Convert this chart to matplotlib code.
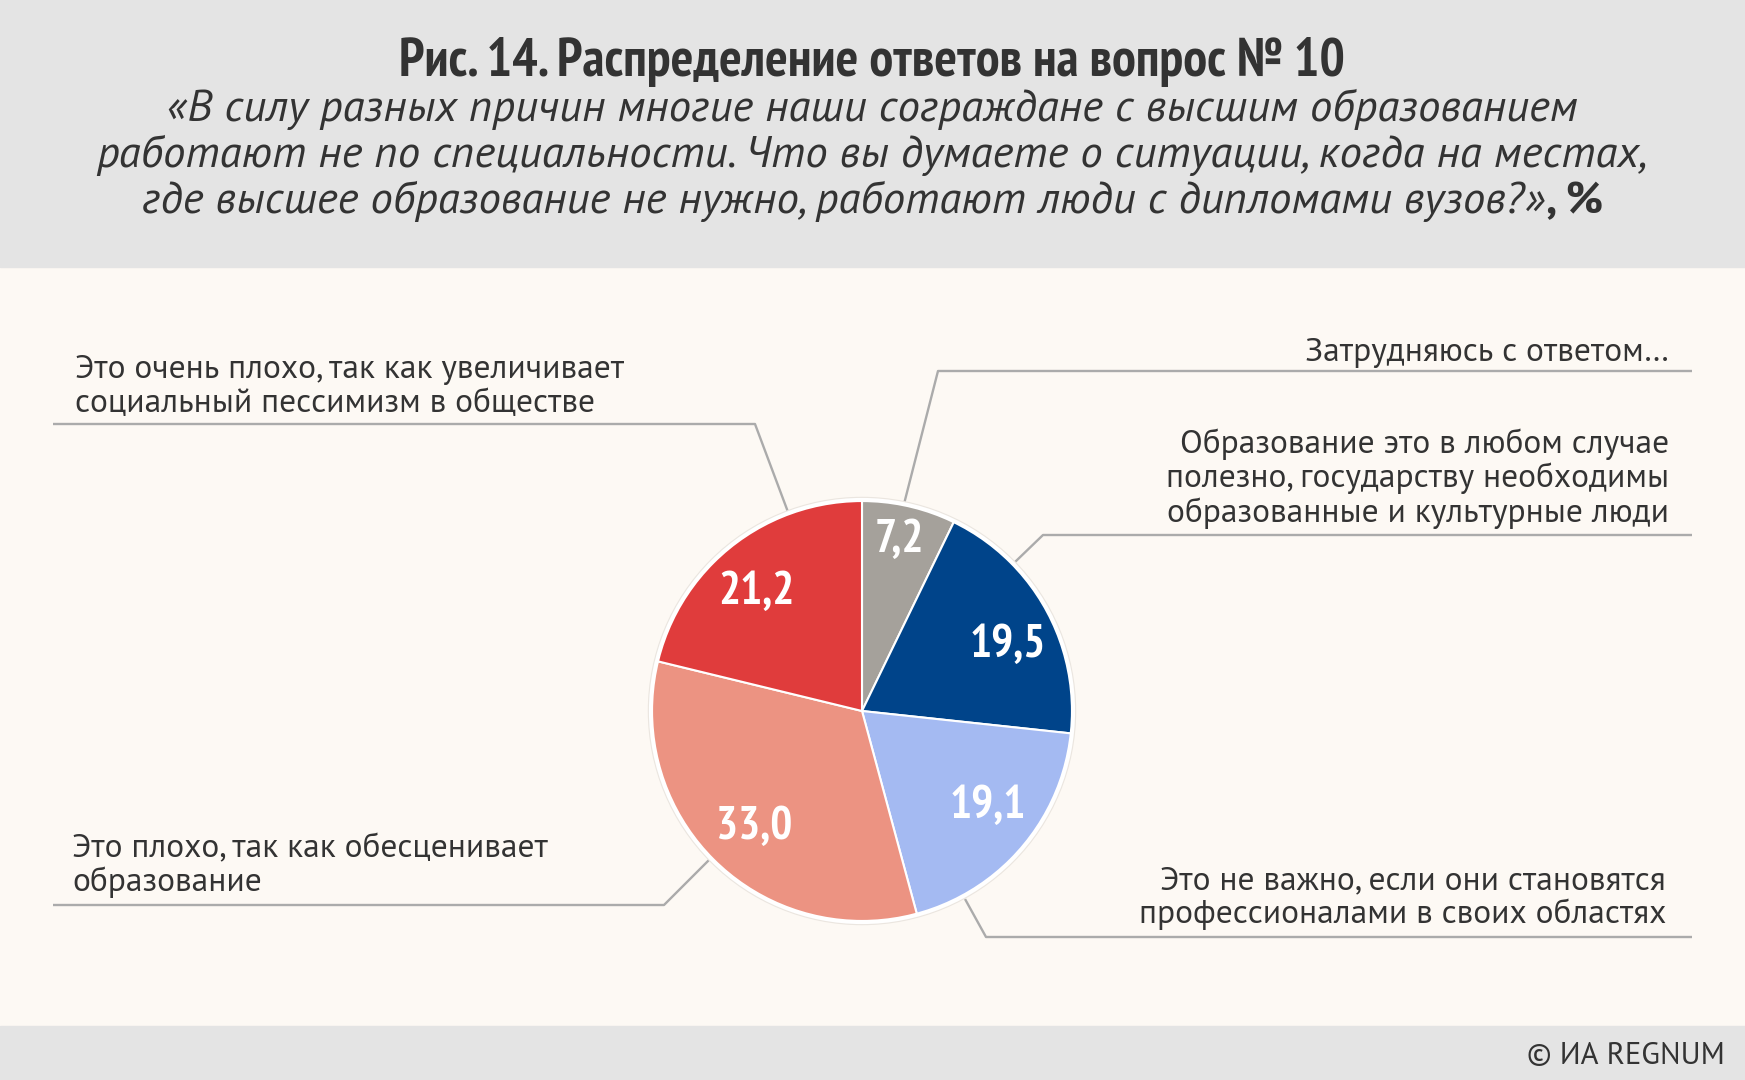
import matplotlib
matplotlib.use("Agg")
import matplotlib.pyplot as plt
import numpy as np

# --- data ---
answers = [
    ["Затрудняюсь с ответом…"],
    ["Образование это в любом случае", "полезно, государству необходимы",
     "образованные и культурные люди"],
    ["Это не важно, если они становятся", "профессионалами в своих областях"],
    ["Это плохо, так как обесценивает", "образование"],
    ["Это очень плохо, так как увеличивает", "социальный пессимизм в обществе"],
]
shares = [7.2, 19.5, 19.1, 33.0, 21.2]
share_labels = ["7,2", "19,5", "19,1", "33,0", "21,2"]
colors = ["#a5a19b", "#00448a", "#a4baf2", "#ec9382", "#e03c3c"]

title = "Рис. 14. Распределение ответов на вопрос № 10"
question = [
    "«В силу разных причин многие наши сограждане с высшим образованием",
    "работают не по специальности. Что вы думаете о ситуации, когда на местах,",
    "где высшее образование не нужно, работают люди с дипломами вузов?»",
]
unit = ", %"
source = "© ИА REGNUM"

# --- layout (pixels of the 1745x1080 canvas, y down) ---
W, H = 1745, 1080
pie_cx, pie_cy, pie_r = 862, 711, 211
# x, first baseline, alignment for each answer label
label_pos = [(1669, 361, "right"), (1669, 453, "right"), (1666, 889, "right"),
             (72, 857, "left"), (75, 378, "left")]
line_step = 34.5
leaders = [
    [(1692, 371), (938, 371), (904, 504)],
    [(1692, 535), (1043, 535), (1015, 562)],
    [(1692, 937), (986, 937), (965, 899)],
    [(53, 905), (664, 905), (709, 860)],
    [(53, 424), (755, 424), (788, 512)],
]
val_dist = [0.83, 0.76, 0.75, 0.75, 0.755]
val_frac = [0.47, 0.567, 0.45, 0.487, 0.457]

sans = ["PT Sans", "DejaVu Sans"]
narrow = ["PT Sans Narrow", "PT Sans", "DejaVu Sans"]
text_col = "#333333"

fig = plt.figure(figsize=(W / 100, H / 100), dpi=100)
fig.patch.set_facecolor("#fdf9f4")
renderer = fig.canvas.get_renderer()

bg = fig.add_axes([0, 0, 1, 1])
bg.set_xlim(0, W)
bg.set_ylim(H, 0)
bg.axis("off")
bg.add_patch(plt.Rectangle((0, 0), W, 267, color="#e4e4e4", zorder=0))
bg.add_patch(plt.Rectangle((0, 1026), W, 54, color="#e4e4e4", zorder=0))


def size_for(s, width, **kw):
    """font size (pt) at which string s is `width` pixels wide"""
    probe = bg.text(0, 0, s, fontsize=20, **kw)
    w = probe.get_window_extent(renderer).width
    probe.remove()
    return 20 * width / w


# header
fs_title = size_for(title, 949, fontweight="bold", family=narrow)
bg.text(872, 76, title, ha="center", va="baseline", fontsize=fs_title,
        fontweight="bold", family=narrow, color=text_col)

fs_q = size_for(question[1], 1547, style="italic", family=sans)
for i, line in enumerate(question[:2]):
    bg.text(872, 121 + 46 * i, line, ha="center", va="baseline", fontsize=fs_q,
            style="italic", family=sans, color=text_col)

# last line: italic question + bold unit, centered together
t1 = bg.text(0, 213, question[2], ha="left", va="baseline", fontsize=fs_q,
             style="italic", family=sans, color=text_col)
t2 = bg.text(0, 213, unit, ha="left", va="baseline", fontsize=fs_q,
             fontweight="bold", family=sans, color=text_col)
w1 = t1.get_window_extent(renderer).width
w2 = t2.get_window_extent(renderer).width
x0 = 872 - (w1 + w2) / 2
t1.set_x(x0)
t2.set_x(x0 + w1 + 1)

fs_src = size_for(source, 198, family=sans)
bg.text(1725, 1064, source, ha="right", va="baseline", fontsize=fs_src,
        family=sans, color=text_col)

# leader lines and answer labels
fs_lab = size_for(answers[4][0], 547, family=sans)
for pts, (lx, ly, ha), lines in zip(leaders, label_pos, answers):
    xs, ys = zip(*pts)
    bg.plot(xs, ys, color="#ababab", lw=1.7, solid_capstyle="butt", zorder=1)
    for k, line in enumerate(lines):
        bg.text(lx, ly + k * line_step, line, ha=ha, va="baseline",
                fontsize=fs_lab, family=sans, color=text_col)

# pie
half = 250
pax = fig.add_axes([(pie_cx - half) / W, (H - pie_cy - half) / H, 2 * half / W, 2 * half / H])
# soft shadow ring behind the pie
pax.add_patch(plt.Circle((0, 0), 1.012, color="#ebe6e0", zorder=0))
wedges, _ = pax.pie(shares, colors=colors, startangle=90, counterclock=False,
                    wedgeprops=dict(edgecolor="white", linewidth=1.5))
pax.add_patch(plt.Circle((0, 0), 1.0, fill=False, edgecolor="white", lw=3.0, zorder=5))
lim = half / pie_r
pax.set_xlim(-lim, lim)
pax.set_ylim(-lim, lim)
pax.set_aspect("equal")
pax.axis("off")

fs_val = size_for("21,2", 76, fontweight="bold", family=narrow)
for w, lab, d, f in zip(wedges, share_labels, val_dist, val_frac):
    # wedges go clockwise, so theta2 is the start and theta1 the end
    ang = np.deg2rad(w.theta2 - f * (w.theta2 - w.theta1))
    pax.text(d * np.cos(ang), d * np.sin(ang), lab, ha="center", va="center",
             fontsize=fs_val, fontweight="bold", family=narrow, color="white", zorder=6)

fig.savefig("out.png", dpi=100, facecolor=fig.get_facecolor())
